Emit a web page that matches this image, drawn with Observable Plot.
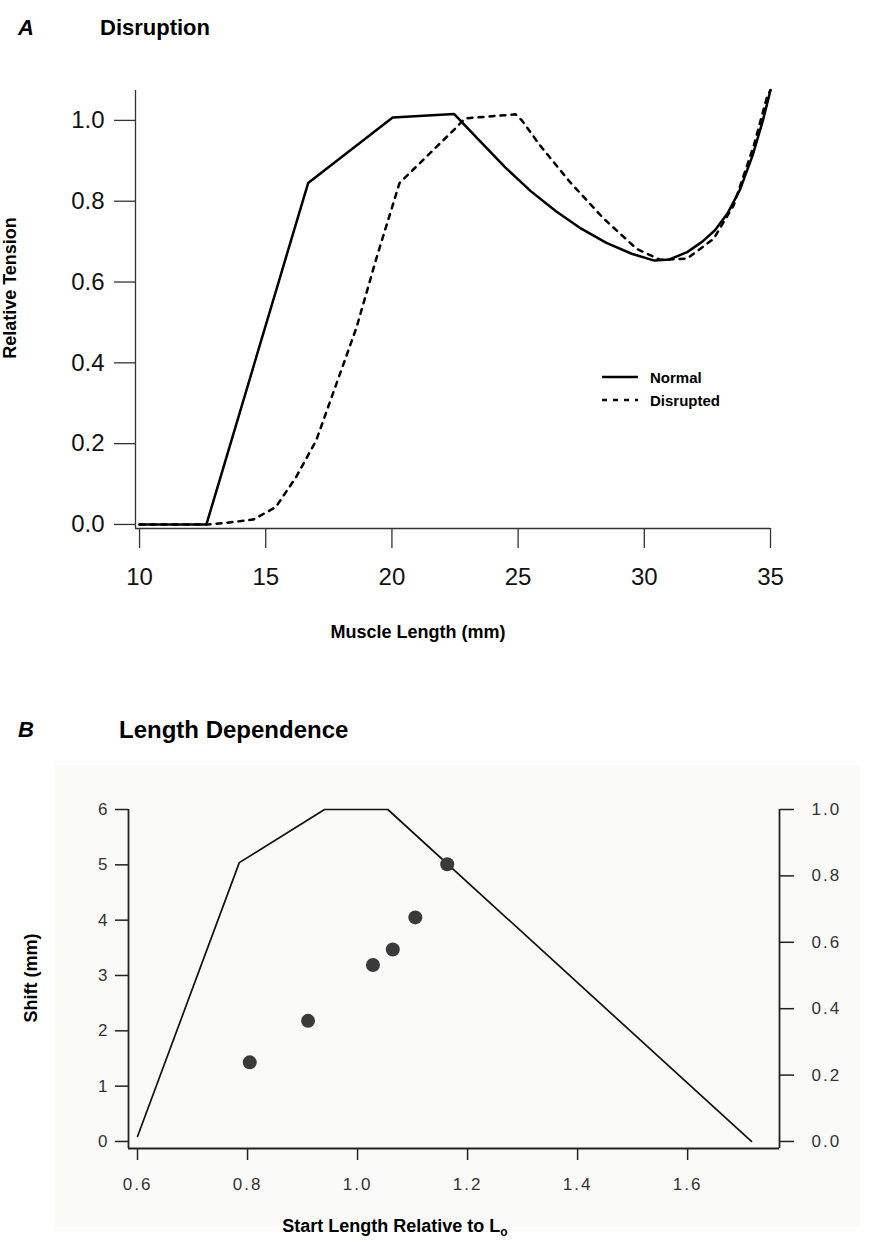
<!DOCTYPE html>
<html>
<head>
<meta charset="utf-8">
<script src="https://cdn.jsdelivr.net/npm/d3@7"></script>
<script src="https://cdn.jsdelivr.net/npm/@observablehq/plot@0.6"></script>
<style>
  body { margin: 0; background: #fff; }
  #wrap { position: relative; width: 877px; height: 1242px; font-family: "Liberation Sans", Arial, sans-serif; color: #000; overflow: hidden; }
  .abs { position: absolute; white-space: nowrap; }
  .ttl { font-weight: bold; }
  .lbl { font-weight: bold; font-size: 18px; }
  .rot { transform: translate(-50%, -50%) rotate(-90deg); }
  .ctr { transform: translate(-50%, -50%); }
  .pB text { letter-spacing: 2px; }
  sub { font-size: 12px; vertical-align: -4px; }
</style>
</head>
<body>
<div id="wrap">
  <div class="abs ttl" style="left:18px; top:15px; font-size:22px; font-style:italic;">A</div>
  <div class="abs ttl" style="left:100px; top:15px; font-size:22px;">Disruption</div>
  <div class="abs ttl" style="left:18px; top:717px; font-size:22px; font-style:italic;">B</div>
  <div class="abs ttl" style="left:119px; top:716px; font-size:24px;">Length Dependence</div>
  <div class="abs" style="left:55px; top:765px; width:805px; height:462px; background:#fafaf9;"></div>
  <div id="plotA" class="abs" style="left:0; top:60px;"></div>
  <div id="plotB" class="abs pB" style="left:0; top:780px;"></div>
  <div class="abs lbl rot" style="left:10px; top:288px;">Relative Tension</div>
  <div class="abs lbl ctr" style="left:418px; top:632px;">Muscle Length (mm)</div>
  <div class="abs lbl rot" style="left:31px; top:978px;">Shift (mm)</div>
  <div class="abs lbl ctr" style="left:395px; top:1227px;">Start Length Relative to L<sub>o</sub></div>
  <svg class="abs" style="left:595px; top:365px;" width="170" height="48">
    <line x1="7" x2="43" y1="12" y2="12" stroke="#000" stroke-width="2.5"/>
    <line x1="7" x2="43" y1="35" y2="35" stroke="#000" stroke-width="2.5" stroke-dasharray="5,6"/>
    <text x="55" y="17.5" font-family="Liberation Sans, Arial, sans-serif" font-weight="bold" font-size="15">Normal</text>
    <text x="55" y="40.5" font-family="Liberation Sans, Arial, sans-serif" font-weight="bold" font-size="15">Disrupted</text>
  </svg>
</div>
<script>
// ---- Panel A data: Muscle Length (mm) vs Relative Tension ----
const normalLen = [10, 12.65, 16.68, 20.03, 22.46, 23.5, 24.5, 25.5, 26.5, 27.5, 28.5, 29.5, 30.4, 31.0, 31.7, 32.3, 32.8, 33.3, 33.8, 34.3, 34.7, 35.0];
const normalTen = [0, 0, 0.845, 1.007, 1.016, 0.948, 0.883, 0.825, 0.775, 0.732, 0.697, 0.670, 0.653, 0.656, 0.674, 0.700, 0.728, 0.770, 0.830, 0.915, 1.000, 1.075];
const disruptLen = [10, 12.7, 13.3, 14.5, 15.4, 16.2, 17.0, 17.8, 18.6, 19.4, 20.3, 22.43, 22.9, 24.9, 25.15, 25.87, 27.06, 28.39, 29.7, 30.63, 31.69, 32.75, 33.54, 34.34, 34.87, 35.0];
const disruptTen = [0, 0, 0.003, 0.012, 0.043, 0.117, 0.208, 0.348, 0.488, 0.662, 0.845, 0.975, 1.005, 1.015, 1.0, 0.938, 0.847, 0.757, 0.682, 0.655, 0.658, 0.707, 0.790, 0.938, 1.060, 1.075];
const xTicksA = [10, 15, 20, 25, 30, 35];
const yTicksA = [0, 0.2, 0.4, 0.6, 0.8, 1.0];

// ---- Panel B data ----
const curveStart = [0.6, 0.785, 0.94, 1.055, 1.716];   // start length relative to Lo
const curveTension = [0.015, 0.84, 1.0, 1.0, 0.0];     // relative tension (right axis)
const ptStart = [0.804, 0.910, 1.028, 1.064, 1.105, 1.163];
const ptShift = [1.43, 2.18, 3.19, 3.47, 4.05, 5.01];  // shift (mm), left axis
const xTicksB = [0.6, 0.8, 1.0, 1.2, 1.4, 1.6];
const leftTicksB = [0, 1, 2, 3, 4, 5, 6];
const rightTicksB = [0, 0.2, 0.4, 0.6, 0.8, 1.0];
const shiftPerTension = 6; // right axis 1.0 aligns with left axis 6

const normal = normalLen.map((x, i) => ({x, y: normalTen[i]}));
const disrupted = disruptLen.map((x, i) => ({x, y: disruptTen[i]}));
const xDomA = [9.84, 35], yDomA = [-0.01, 1.074];

const axisCol = "#333";
const plotA = Plot.plot({
  width: 877, height: 600,
  marginLeft: 135, marginRight: 107, marginTop: 30, marginBottom: 132,
  x: {domain: xDomA}, y: {domain: yDomA},
  style: {fontFamily: "Liberation Sans, Arial, sans-serif", fontSize: "24px", color: "#111", background: "transparent"},
  marks: [
    Plot.axisX(xTicksA, {tickSize: 20, tickPadding: 19, fontSize: 24, label: null, stroke: axisCol, strokeWidth: 1.3}),
    Plot.axisY(yTicksA, {tickSize: 21, tickPadding: 10, fontSize: 24, tickFormat: ".1f", label: null, stroke: axisCol, strokeWidth: 1.3}),
    Plot.ruleX([xDomA[0]], {y1: yDomA[0], y2: yDomA[1], stroke: axisCol, strokeWidth: 1.3}),
    Plot.ruleY([yDomA[0]], {x1: xDomA[0], x2: xDomA[1], stroke: axisCol, strokeWidth: 1.3}),
    Plot.line(disrupted, {x: "x", y: "y", stroke: "#000", strokeWidth: 2.5, strokeDasharray: "5,6"}),
    Plot.line(normal, {x: "x", y: "y", stroke: "#000", strokeWidth: 2.5})
  ]
});
document.getElementById("plotA").appendChild(plotA);

const curveB = curveStart.map((x, i) => ({x, t: curveTension[i]}));
const ptsB = ptStart.map((x, i) => ({x, y: ptShift[i]}));
const xDomB = [0.5836, 1.767], yDomB = [-0.127, 6];
const colB = "#222";
const plotB = Plot.plot({
  width: 877, height: 420,
  marginLeft: 128, marginRight: 98, marginTop: 29, marginBottom: 52,
  x: {domain: xDomB}, y: {domain: yDomB},
  style: {fontFamily: "Liberation Sans, Arial, sans-serif", fontSize: "17px", color: "#333", background: "transparent"},
  marks: [
    Plot.axisX(xTicksB, {tickSize: 12, tickPadding: 17, fontSize: 17, tickFormat: ".1f", label: null, stroke: colB, strokeWidth: 1.5}),
    Plot.axisY(leftTicksB, {anchor: "left", tickSize: 13, tickPadding: 6, fontSize: 17, tickFormat: "d", label: null, stroke: colB, strokeWidth: 1.5}),
    Plot.axisY(rightTicksB.map(v => v * shiftPerTension), {anchor: "right", tickSize: 14, tickPadding: 18, fontSize: 17, tickFormat: d => (d / shiftPerTension).toFixed(1), label: null, stroke: colB, strokeWidth: 1.5}),
    Plot.ruleX([xDomB[0], xDomB[1]], {y1: yDomB[0], y2: yDomB[1], stroke: colB, strokeWidth: 1.8}),
    Plot.ruleY([yDomB[0]], {x1: xDomB[0], x2: xDomB[1], stroke: colB, strokeWidth: 1.8}),
    Plot.line(curveB, {x: "x", y: d => d.t * shiftPerTension, stroke: "#111", strokeWidth: 1.7}),
    Plot.dot(ptsB, {x: "x", y: "y", r: 7, fill: "#3a3a3a", stroke: "none"})
  ]
});
document.getElementById("plotB").appendChild(plotB);
</script>
</body>
</html>
